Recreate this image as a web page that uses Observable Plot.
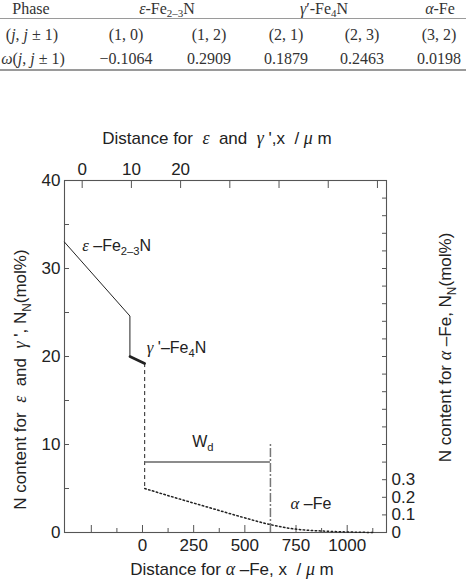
<!DOCTYPE html>
<html><head><meta charset="utf-8">
<script src="https://cdn.jsdelivr.net/npm/d3@7"></script>
<script src="https://cdn.jsdelivr.net/npm/@observablehq/plot@0.6"></script>
<style>
body{margin:0;background:#fff;}
#wrap{position:relative;width:466px;height:580px;overflow:hidden;background:#fff;}
#table{position:absolute;left:0;top:0;width:466px;height:80px;font-family:"Liberation Serif","Times New Roman",serif;font-size:16px;color:#333;}
.c{position:absolute;transform:translate(-50%,-50%);white-space:nowrap;line-height:1;}
.c sub{font-size:11px;vertical-align:-3px;line-height:0;}
.rule{position:absolute;left:0;width:466px;}
#chart{position:absolute;left:0;top:80px;}
svg text{white-space:pre;}
</style></head>
<body><div id="wrap"><div id="table"></div><div id="chart"></div></div>
<script>
// ---------- table data ----------
const tableHeaderLabel = "Phase";
const tablePhases = ["<i>ε</i>-Fe<sub>2–3</sub>N", "<i>γ</i>′-Fe<sub>4</sub>N", "<i>α</i>-Fe"];
const tableRowLabels = ["(<i>j</i>, <i>j</i> ± 1)", "<i>ω</i>(<i>j</i>, <i>j</i> ± 1)"];
const tablePairs = ["(1, 0)", "(1, 2)", "(2, 1)", "(2, 3)", "(3, 2)"];
const tableOmega = ["−0.1064", "0.2909", "0.1879", "0.2463", "0.0198"];

// ---------- chart data ----------
// ε and γ' profile: distance on top axis (µm), N content (mol%, left axis)
const epsDist = [-3.6, 9.7, 9.7];
const epsN = [33.0, 24.6, 20.0];
const gammaDist = [9.7, 12.7];
const gammaN = [20.0, 19.2];
// α-Fe profile: distance on bottom axis (µm), N content (mol%, right axis)
const alphaDist = [11, 153, 316, 479, 617, 723, 886, 1000, 1130];
const alphaN = [0.25, 0.20, 0.145, 0.09, 0.047, 0.023, 0.008, 0.003, 0.0];
// diffusion depth W_d
const wdDepth = 625;
const wdLevel = 8;
const wdMarkTop = 10;

// tick values
const leftTicks = [0, 5, 10, 15, 20, 25, 30, 35, 40];
const leftLabels = [0, 10, 20, 30, 40];
const rightTicks = d3.range(0, 21).map(i => i / 10);
const rightLabels = [0, 0.1, 0.2, 0.3];
const topTicks = [0, 10, 20, 30, 40, 50, 60];
const topLabels = [0, 10, 20];
const bottomMajor = [-250, 0, 250, 500, 750, 1000];
const bottomMinor = [-125, 125, 375, 625, 875, 1125];
const bottomLabels = [0, 250, 500, 750, 1000];

// ---------- table ----------
const tbl = document.getElementById("table");
function cell(html, x, y) {
  const d = document.createElement("div");
  d.className = "c"; d.innerHTML = html;
  d.style.left = x + "px"; d.style.top = y + "px";
  tbl.appendChild(d);
}
const colX = [126, 209, 286, 362, 439];
const phaseX = [167, 324, 440];
cell(tableHeaderLabel, 31, 9);
tablePhases.forEach((p, i) => cell(p, phaseX[i], 9));
cell(tableRowLabels[0], 32, 35);
cell(tableRowLabels[1], 33, 59);
tablePairs.forEach((p, i) => cell(p, colX[i], 35));
tableOmega.forEach((p, i) => cell(p, colX[i], 59));
function rule(y, h, c) {
  const d = document.createElement("div");
  d.className = "rule"; d.style.top = y + "px"; d.style.height = h + "px"; d.style.background = c;
  tbl.appendChild(d);
}
rule(18, 1, "#9a9a9a");
rule(69, 2, "#9a9a9a");

// ---------- chart ----------
const R = 20;                       // right axis (α-Fe mol%) → left axis units
const t2b = t => -294.6 + 24.04 * t; // top-axis µm → bottom-axis µm
const b2t = b => (b + 294.6) / 24.04;
const ink = "#222", axisInk = "#555";

const chart = Plot.plot({
  width: 466, height: 500,
  marginLeft: 64, marginRight: 80, marginTop: 100, marginBottom: 48,
  x: {domain: [-381, 1192]},
  y: {domain: [0, 40]},
  style: {fontFamily: "'Liberation Sans', Arial, sans-serif", fontSize: "17px", color: ink, background: "#fff"},
  marks: [
    Plot.frame({stroke: axisInk, strokeWidth: 1.1}),
    // left axis
    Plot.axisY({anchor: "left", ticks: leftTicks, tickSize: -5, tickFormat: () => "", label: null, stroke: axisInk}),
    Plot.axisY({anchor: "left", ticks: leftLabels, tickSize: 0, tickPadding: 4, label: null, fill: ink}),
    // right axis
    Plot.axisY({anchor: "right", ticks: rightTicks.map(v => v * R), tickSize: -5, tickFormat: () => "", label: null, stroke: axisInk}),
    Plot.axisY({anchor: "right", ticks: rightLabels.map(v => v * R), tickSize: 0, tickPadding: 5, label: null, fill: ink,
      tickFormat: d => String(+(d / R).toFixed(1))}),
    // top axis
    Plot.axisX({anchor: "top", ticks: topTicks.map(t2b), tickSize: -7, tickFormat: () => "", label: null, stroke: axisInk}),
    Plot.axisX({anchor: "top", ticks: topLabels.map(t2b), tickSize: 0, tickPadding: 6, label: null, fill: ink,
      tickFormat: d => String(Math.round(b2t(d)))}),
    // bottom axis
    Plot.axisX({anchor: "bottom", ticks: bottomMajor, tickSize: -7, tickFormat: () => "", label: null, stroke: axisInk}),
    Plot.axisX({anchor: "bottom", ticks: bottomMinor, tickSize: -4, tickFormat: () => "", label: null, stroke: axisInk}),
    Plot.axisX({anchor: "bottom", ticks: bottomLabels, tickSize: 0, tickPadding: 6, label: null, fill: ink,
      tickFormat: d => String(d)}),
    // profiles
    Plot.line(epsDist, {x: t => t2b(t), y: (t, i) => epsN[i], stroke: ink, strokeWidth: 1}),
    Plot.line(gammaDist, {x: t => t2b(t), y: (t, i) => gammaN[i], stroke: ink, strokeWidth: 2.6}),
    Plot.ruleX([gammaDist[gammaDist.length - 1]], {x: t => t2b(t), y1: gammaN[gammaN.length - 1], y2: alphaN[0] * R,
      stroke: ink, strokeWidth: 1, strokeDasharray: "4,3"}),
    Plot.line(alphaDist, {x: d => d, y: (d, i) => alphaN[i] * R, curve: "monotone-x", stroke: ink, strokeWidth: 1.5, strokeDasharray: "1.5,2.5"}),
    Plot.ruleY([wdLevel], {x1: t2b(gammaDist[gammaDist.length - 1]), x2: wdDepth, stroke: "#666", strokeWidth: 1.5}),
    Plot.ruleX([wdDepth], {y1: 0, y2: wdMarkTop, stroke: "#777", strokeWidth: 1.5, strokeDasharray: "9,2,2,2"}),
    // annotations
    Plot.text(["ε –Fe_{2–3}N"], {x: t2b(0), y: 32.6, textAnchor: "start", fontSize: 16, fill: ink}),
    Plot.text(["γ '–Fe_{4}N"], {x: 21, y: 21.0, textAnchor: "start", fontSize: 16, fill: ink}),
    Plot.text(["W_{d}"], {x: 243, y: 10.3, textAnchor: "start", fontSize: 16, fill: ink}),
    Plot.text(["α –Fe"], {x: 723, y: 3.3, textAnchor: "start", fontSize: 16, fill: ink}),
    // axis titles
    Plot.text(["Distance for  ε  and  γ ',x  / μ m"], {frameAnchor: "top", textAnchor: "middle", lineAnchor: "middle", dx: -8.5, dy: -42, fill: ink}),
    Plot.text(["Distance for α –Fe, x  / μ m"], {frameAnchor: "bottom", textAnchor: "middle", lineAnchor: "middle", dx: 6.5, dy: 37.5, fill: ink}),
    Plot.text(["N content for  ε  and  γ ', N_{N}(mol%)"], {frameAnchor: "left", textAnchor: "middle", lineAnchor: "middle", rotate: -90, dx: -44, dy: 23, fill: ink}),
    Plot.text(["N content for α –Fe, N_{N}(mol%)"], {frameAnchor: "right", textAnchor: "middle", lineAnchor: "middle", rotate: -90, dx: 59, dy: -9, fill: ink})
  ]
});
document.getElementById("chart").appendChild(chart);

// rich text: italic serif Greek letters and subscripts
const NS = "http://www.w3.org/2000/svg";
chart.querySelectorAll("text").forEach(el => {
  const s = el.textContent;
  if (!/[εγαμω]|_\{/.test(s)) return;
  const fs = parseFloat(getComputedStyle(el).fontSize) || 17;
  const re = /_\{([^}]*)\}|([εγαμω])|([^εγαμω_]+|_)/g;
  el.textContent = "";
  let m, shifted = false;
  while ((m = re.exec(s))) {
    const ts = document.createElementNS(NS, "tspan");
    if (m[1] !== undefined) {
      ts.textContent = m[1];
      ts.setAttribute("font-size", (fs * 0.7) + "px");
      if (!shifted) { ts.setAttribute("dy", (fs * 0.28) + "px"); shifted = true; }
    } else {
      if (shifted) { ts.setAttribute("dy", (-fs * 0.28) + "px"); shifted = false; }
      if (m[2] !== undefined) {
        ts.textContent = m[2];
        ts.setAttribute("font-family", "'Liberation Serif', serif");
        ts.setAttribute("font-style", "italic");
        ts.setAttribute("font-size", (fs * 1.05) + "px");
      } else ts.textContent = m[3];
    }
    el.appendChild(ts);
  }
});
</script>
</body></html>
